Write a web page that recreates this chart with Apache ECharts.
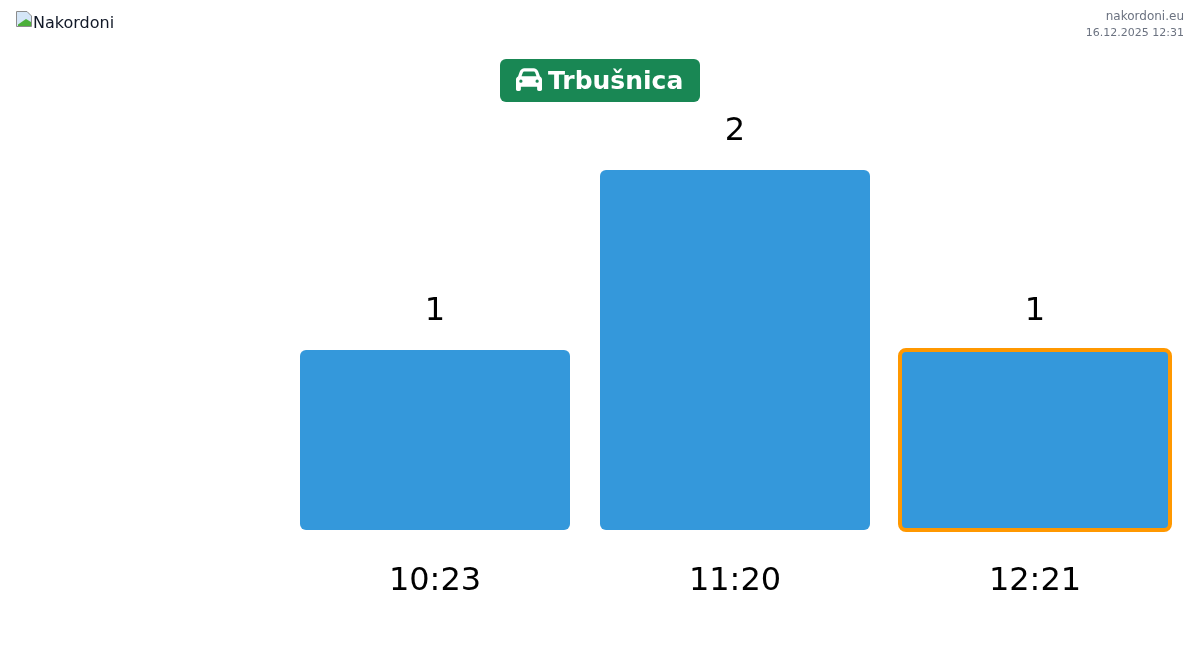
<!DOCTYPE html>
<html>
<head>
<meta charset="utf-8">
<title>Trbušnica</title>
<style>
  html, body { margin: 0; padding: 0; background: #fff; }
  #chart { width: 1200px; height: 651px; }
</style>
<script src="https://cdn.jsdelivr.net/npm/echarts@6/dist/echarts.min.js"></script>
</head>
<body>
<div id="chart"></div>
<script>
const categories = ['10:23', '11:20', '12:21'];
const counts = [1, 2, 1];
const currentIndex = 2;

const brandName = 'Nakordoni';
const siteName = 'nakordoni.eu';
const stamp = '16.12.2025 12:31';
const crossing = 'Trbušnica';

const font = '"DejaVu Sans", sans-serif';
const barWidth = 270;
// car icon
const carPath = 'M135.2 117.4L109.1 192H402.9l-26.1-74.6C372.3 104.6 360.2 96 346.6 96H165.4c-13.6 0-25.7 8.6-30.2 21.4zM39.6 196.8L74.8 96.3C88.3 57.8 124.6 32 165.4 32H346.6c40.8 0 77.1 25.8 90.6 64.3l35.2 100.5c23.2 9.6 39.6 32.5 39.6 59.2V400v48c0 17.7-14.3 32-32 32H448c-17.7 0-32-14.3-32-32V400H96v48c0 17.7-14.3 32-32 32H32c-17.7 0-32-14.3-32-32V400 256c0-26.7 16.4-49.6 39.6-59.2zM128 288a32 32 0 1 0 -64 0 32 32 0 1 0 64 0zm288 32a32 32 0 1 0 0-64 32 32 0 1 0 0 64z';
echarts.graphic.registerShape('carIcon', echarts.graphic.extendPath(carPath, {}));
const carScale = 26 / 512;

const chart = echarts.init(document.getElementById('chart'), null, { renderer: 'canvas' });

chart.setOption({
  animation: false,
  backgroundColor: '#fff',
  textStyle: { fontFamily: font },
  grid: { left: 285, right: 15, top: 170, bottom: 121 },
  xAxis: {
    type: 'category',
    data: categories,
    axisLine: { show: false },
    axisTick: { show: false },
    axisLabel: { color: '#000', fontSize: 32, margin: 36, fontFamily: font }
  },
  yAxis: {
    type: 'value',
    min: 0,
    max: 2,
    show: false,
    splitLine: { show: false }
  },
  series: [{
    type: 'bar',
    barWidth: barWidth,
    data: counts,
    itemStyle: { color: '#3498db', borderRadius: 6 },
    label: {
      show: true,
      position: 'top',
      distance: 22,
      color: '#000',
      fontSize: 32,
      fontFamily: font
    }
  }, {
    // outline of the current bar, bar borders get drawn inset so this one is separate
    type: 'custom',
    data: [[currentIndex, counts[currentIndex]]],
    encode: { x: 0, y: 1 },
    z: 3,
    silent: true,
    renderItem(params, api) {
      const top = api.coord([api.value(0), api.value(1)]);
      const size = api.size([0, api.value(1)]);
      return {
        type: 'rect',
        shape: { x: top[0] - barWidth / 2, y: top[1], width: barWidth, height: size[1], r: 6 },
        style: { fill: 'none', stroke: '#ff9800', lineWidth: 4 }
      };
    }
  }],
  graphic: [
    // broken image icon
    { type: 'polygon', shape: { points: [[16.5, 11.5], [27, 11.5], [31.5, 16], [31.5, 26.5], [16.5, 26.5]] },
      style: { fill: '#d5e6f7', stroke: '#8c8c8c', lineWidth: 1 } },
    { type: 'polygon', shape: { points: [[18, 26], [18, 24.5], [26, 19], [31, 22], [31, 26]] },
      style: { fill: '#4caf3a' } },
    { type: 'text', x: 33, y: 24, style: { text: brandName, font: '16px ' + font, fill: '#111827', textVerticalAlign: 'middle' } },
    { type: 'text', x: 1184, y: 17, style: { text: siteName, font: '12px ' + font, fill: '#6b7280', textAlign: 'right', textVerticalAlign: 'middle' } },
    { type: 'text', x: 1184, y: 33, style: { text: stamp, font: '11px ' + font, fill: '#6b7280', textAlign: 'right', textVerticalAlign: 'middle' } },
    // crossing badge
    { type: 'rect', shape: { x: 500, y: 59, width: 200, height: 43, r: 6 }, style: { fill: '#198754' } },
    { type: 'carIcon', x: 516, y: 66.5, scaleX: carScale, scaleY: carScale, style: { fill: '#fff' } },
    { type: 'text', x: 548, y: 82, style: { text: crossing, font: 'bold 25px ' + font, fill: '#fff', textVerticalAlign: 'middle' } }
  ]
});
</script>
</body>
</html>
